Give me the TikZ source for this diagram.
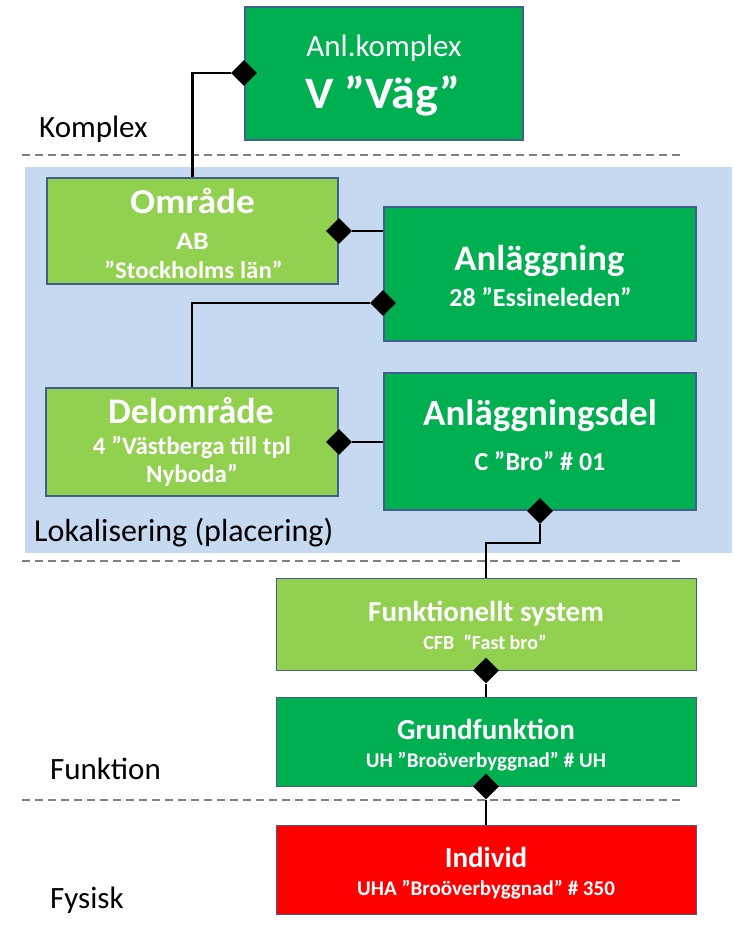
\documentclass[tikz,border=0pt]{standalone}
\usepackage{fontspec}
\setmainfont{Carlito}
\usetikzlibrary{shapes.geometric}
\definecolor{dkgreen}{HTML}{00B050}
\definecolor{ltgreen}{HTML}{92D050}
\definecolor{redbox}{HTML}{FF0000}
\definecolor{bluebg}{HTML}{C6D9F1}
\definecolor{edgeblue}{HTML}{3F5F8F}
\definecolor{dashgray}{HTML}{808080}
\newcommand\fsz[1]{\fontsize{#1}{#1}\selectfont}
\newcommand\wide[2]{\scalebox{#1}[1]{#2}}
\begin{document}
\begin{tikzpicture}[x=1pt,y=-1pt,
  box/.style={draw=edgeblue,line width=2pt,inner sep=0pt},
  thinbox/.style={draw=edgeblue,line width=1pt,inner sep=0pt},
  txt/.style={anchor=base,inner sep=0pt,text=white,font=\bfseries},
  lbl/.style={anchor=base west,inner sep=0pt,text=black},
  dia/.style={diamond,fill=black,inner sep=0pt,minimum width=26pt,minimum height=26pt},
  link/.style={draw=black,line width=2.4pt},
  level/.style={draw=dashgray,line width=2pt,dash pattern=on 8pt off 5pt}]
\useasboundingbox (0,0) rectangle (732,937);

% localisation band
\fill[bluebg] (25,167) rectangle (732,553);

% level separators
\draw[level] (22,155) -- (684,155);
\draw[level] (22,561) -- (680,561);
\draw[level] (22,800) -- (680,800);

% level names
\node[lbl,font=\fsz{31}] (lkomplex) at (39,137) {Komplex};
\node[lbl,font=\fsz{32}] (llok) at (34,541) {Lokalisering (placering)};
\node[lbl,font=\fsz{31}] (lfunk) at (50,779) {Funktion};
\node[lbl,font=\fsz{31}] (lfys) at (50,908) {Fysisk};

% boxes
\node[box,fill=dkgreen,minimum width=278pt,minimum height=133pt] (kompl) at (384,73.5) {};
\node[box,fill=ltgreen,minimum width=291pt,minimum height=106pt] (omr) at (192.5,231) {};
\node[box,fill=dkgreen,minimum width=312pt,minimum height=134pt] (anl) at (540,274) {};
\node[box,fill=ltgreen,minimum width=292pt,minimum height=108pt] (del) at (192,442) {};
\node[box,fill=dkgreen,minimum width=312pt,minimum height=137pt] (adel) at (540,441.5) {};
\node[thinbox,fill=ltgreen,minimum width=420pt,minimum height=92pt] (fs) at (486,624) {};
\node[thinbox,fill=dkgreen,minimum width=420pt,minimum height=89pt] (gf) at (486,741.5) {};
\node[thinbox,fill=redbox,minimum width=420pt,minimum height=89pt] (ind) at (486,869.5) {};

% box texts
\node[txt,font=\fsz{31}] (kompl1) at (384,56) {Anl.komplex};
\node[txt,font=\bfseries\fsz{45}] (kompl2) at (383,108) {\wide{1.07}{V ”Väg”}};
\node[txt,font=\bfseries\fsz{35}] (omr1) at (192.5,213) {\wide{1.06}{Område}};
\node[txt,font=\bfseries\fsz{25}] (omr2) at (192.5,249) {\wide{1.12}{AB}};
\node[txt,font=\bfseries\fsz{24}] (omr3) at (193.5,278) {\wide{1.04}{”Stockholms län”}};
\node[txt,font=\bfseries\fsz{36}] (anl1) at (539.5,270) {\wide{1.02}{Anläggning}};
\node[txt,font=\bfseries\fsz{26}] (anl2) at (540.5,306) {28 ”Essineleden”};
\node[txt,font=\bfseries\fsz{36}] (del1) at (191,423) {Delområde};
\node[txt,font=\bfseries\fsz{25}] (del2) at (192,454) {4 ”Västberga till tpl};
\node[txt,font=\bfseries\fsz{25}] (del3) at (192,482) {Nyboda”};
\node[txt,font=\bfseries\fsz{37}] (adel1) at (540,425) {Anläggningsdel};
\node[txt,font=\bfseries\fsz{26}] (adel2) at (540,470) {C ”Bro” \# 01};
\node[txt,font=\bfseries\fsz{29}] (fs1) at (486,621) {Funktionellt system};
\node[txt,font=\bfseries\fsz{20}] (fs2) at (485,649) {CFB\ \ ”Fast bro”};
\node[txt,font=\bfseries\fsz{29}] (gf1) at (486,739) {Grundfunktion};
\node[txt,font=\bfseries\fsz{21}] (gf2) at (486,767) {UH ”Broöverbyggnad” \# UH};
\node[txt,font=\bfseries\fsz{29}] (ind1) at (486,867) {Individ};
\node[txt,font=\bfseries\fsz{21}] (ind2) at (486,895) {UHA ”Broöverbyggnad” \# 350};

% aggregation diamonds
\node[dia] (d1) at (kompl.west |- 0,73) {};
\node[dia] (d2) at (omr.east |- 0,231) {};
\node[dia] (d3) at (anl.west |- 0,303) {};
\node[dia] (d4) at (del.east |- 0,442) {};
\node[dia] (d5) at (adel.south -| 540,0) {};
\node[dia] (d6) at (fs.south) {};
\node[dia] (d7) at (gf.south) {};
\coordinate (bend) at (540,543);

% connectors
\draw[link] (d1.west) -| (omr.north);
\draw[link] (d2.east) -- (anl.west |- d2);
\draw[link] (d3.west) -| (del.north);
\draw[link] (d4.east) -- (adel.west |- d4);
\draw[link] (d5.south) -- (bend) -| (fs.north);
\draw[link] (d6.south) -- (gf.north);
\draw[link] (d7.south) -- (ind.north);
\end{tikzpicture}
\end{document}
